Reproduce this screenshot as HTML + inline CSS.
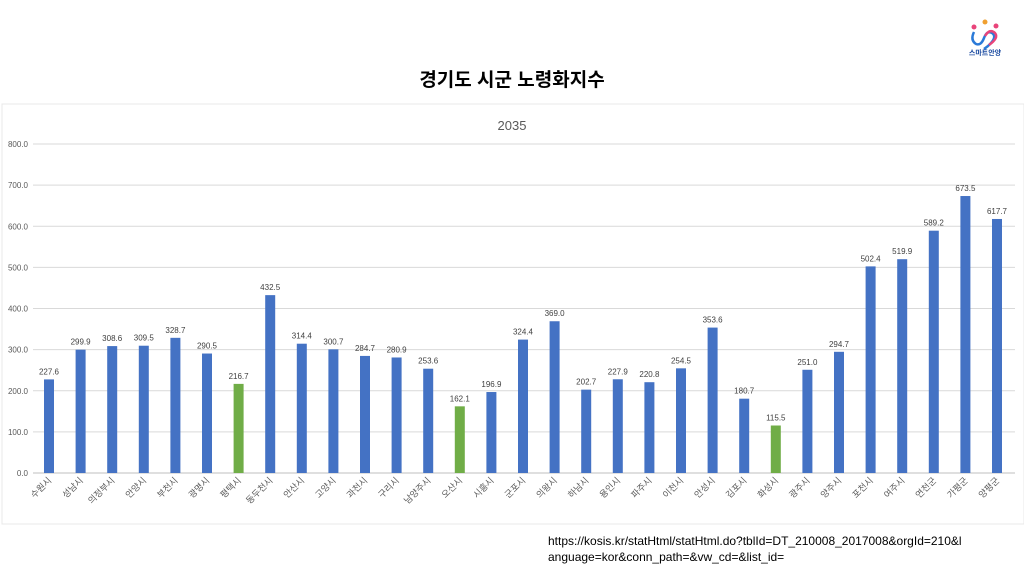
<!DOCTYPE html>
<html><head><meta charset="utf-8"><style>
body{margin:0;width:1024px;height:576px;background:#fff;overflow:hidden;font-family:"Liberation Sans","Noto Sans CJK KR",sans-serif}
</style></head><body>
<svg width="1024" height="576" xmlns="http://www.w3.org/2000/svg" font-family="Liberation Sans, Noto Sans CJK KR, sans-serif">
<rect x="2" y="104" width="1022" height="420" fill="#fff" stroke="#e8e8e8"/>
<text x="512" y="86" text-anchor="middle" font-size="19" font-weight="bold" fill="#000">경기도 시군 노령화지수</text>
<text x="512" y="130" text-anchor="middle" font-size="13" fill="#595959">2035</text>
<g font-size="13" font-weight="bold">
<circle cx="974" cy="27" r="2.5" fill="#e9447a"/><circle cx="985" cy="22" r="2.5" fill="#f0a030"/><circle cx="996" cy="26" r="2.5" fill="#e9447a"/>
<path d="M974 32 q-4 8 2 12 q5 2 8-6 q3-8 8-5 q6 4-4 13 l-4 3" fill="none" stroke="#2a7ad8" stroke-width="2.5"/>
<path d="M985 36 q5-8 10-3 q4 5-6 12" fill="none" stroke="#e9447a" stroke-width="2.5"/>
<text x="985" y="55" text-anchor="middle" font-size="7" fill="#1a4aa0">스마트안양</text>
</g>
<g id="chart"></g>
<text x="548" y="545" font-size="12" fill="#000">https://kosis.kr/statHtml/statHtml.do?tblId=DT_210008_2017008&amp;orgId=210&amp;l</text>
<text x="548" y="561" font-size="12" fill="#000">anguage=kor&amp;conn_path=&amp;vw_cd=&amp;list_id=</text>
</svg>
<script>
var names=["수원시","성남시","의정부시","안양시","부천시","광명시","평택시","동두천시","안산시","고양시","과천시","구리시","남양주시","오산시","시흥시","군포시","의왕시","하남시","용인시","파주시","이천시","안성시","김포시","화성시","광주시","양주시","포천시","여주시","연천군","가평군","양평군"];
var v=[227.6,299.9,308.6,309.5,328.7,290.5,216.7,432.5,314.4,300.7,284.7,280.9,253.6,162.1,196.9,324.4,369.0,202.7,227.9,220.8,254.5,353.6,180.7,115.5,251.0,294.7,502.4,519.9,589.2,673.5,617.7];
var g=[6,13,23];
var s="";var y0=473,k=329/800;
for(var i=0;i<=8;i++){var y=y0-i*100*k;s+='<line x1="33" x2="1015" y1="'+y+'" y2="'+y+'" stroke="'+(i?'#d9d9d9':'#bfbfbf')+'"/><text x="28" y="'+(y+3)+'" text-anchor="end" font-size="8" fill="#595959">'+(i*100).toFixed(1)+'</text>';}
for(var i=0;i<31;i++){var x=49+i*31.6,h=v[i]*k;var c=g.indexOf(i)>=0?'#70ad47':'#4472c4';
s+='<rect x="'+(x-5)+'" y="'+(y0-h)+'" width="10" height="'+h+'" fill="'+c+'"/>';
s+='<text x="'+x+'" y="'+(y0-h-5)+'" text-anchor="middle" font-size="8" fill="#404040">'+v[i].toFixed(1)+'</text>';
s+='<text transform="translate('+(x+3)+',481) rotate(-45)" text-anchor="end" font-size="9" fill="#595959">'+names[i]+'</text>';}
document.getElementById("chart").innerHTML=s;
</script>
</body></html>
